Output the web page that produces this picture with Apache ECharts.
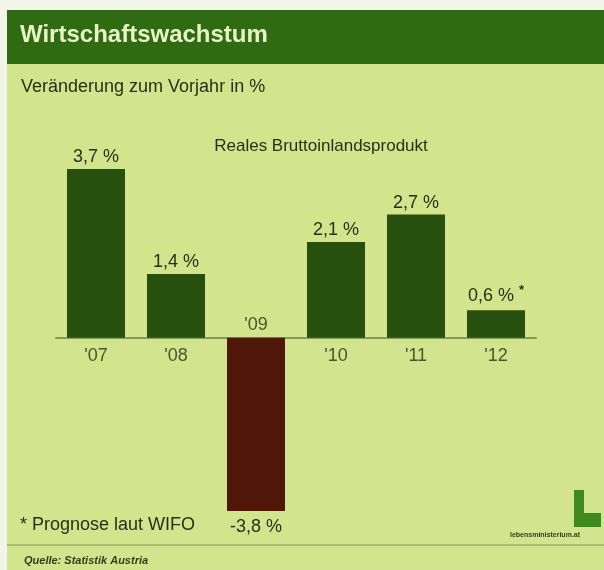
<!DOCTYPE html>
<html>
<head>
<meta charset="utf-8">
<script src="https://cdn.jsdelivr.net/npm/echarts@6/dist/echarts.min.js"></script>
<style>
html,body{margin:0;padding:0;background:#f2f5e8;}
#c{width:604px;height:570px;}
</style>
</head>
<body>
<div id="c"></div>
<script>
const categories = ["'07", "'08", "'09", "'10", "'11", "'12"];
const values = [3.7, 1.4, -3.8, 2.1, 2.7, 0.6];
const footnoteMarks = ['', '', '', '', '', '*'];

const posColor = '#26500e';
const negColor = '#4f1609';
const textColor = '#2a2e18';
const FF = '"Liberation Sans", Arial, sans-serif';

const chart = echarts.init(document.getElementById('c'));

const fmt = v => (v.toFixed(1)).replace('.', ',') + ' %';

const barData = values.map((v, i) => ({
  value: v,
  itemStyle: { color: v < 0 ? negColor : posColor },
  label: {
    position: v < 0 ? 'bottom' : 'top',
    distance: v < 0 ? 7 : 3
  }
}));

const catLabelData = values.map((v, i) => ({
  value: [categories[i], 0],
  label: {
    position: v < 0 ? 'top' : 'bottom',
    distance: v < 0 ? 4 : 9
  }
}));

chart.setOption({
  backgroundColor: 'transparent',
  animation: false,
  graphic: [
    { type: 'rect', shape: { x: 7, y: 10, width: 597, height: 560 }, style: { fill: '#d2e58d' }, z: -10 },
    { type: 'rect', shape: { x: 7, y: 10, width: 597, height: 54 }, style: { fill: '#2f6b10' }, z: -5 },
    { type: 'text', left: 20, top: 23, style: { text: 'Wirtschaftswachstum', fill: '#eaf2c8', font: 'bold 24px ' + FF } },
    { type: 'text', left: 21, top: 78, style: { text: 'Veränderung zum Vorjahr in %', fill: textColor, font: '18px ' + FF } },
    { type: 'text', left: 20, top: 516, style: { text: '* Prognose laut WIFO', fill: textColor, font: '18px ' + FF } },
    { type: 'line', shape: { x1: 7, y1: 545, x2: 604, y2: 545 }, style: { stroke: '#97b166', lineWidth: 1.5 } },
    { type: 'text', left: 24, top: 555, style: { text: 'Quelle: Statistik Austria', fill: '#3a3a20', font: 'italic bold 11px ' + FF } },
    { type: 'rect', shape: { x: 574, y: 490, width: 10, height: 37 }, style: { fill: '#3f8a1c' } },
    { type: 'rect', shape: { x: 574, y: 513, width: 27, height: 14 }, style: { fill: '#3f8a1c' } },
    { type: 'text', left: 510, top: 532, style: { text: 'lebensministerium.at', fill: '#3a3a20', font: 'bold 7px ' + FF } }
  ],
  title: {
    text: 'Reales Bruttoinlandsprodukt',
    left: 316, top: 133, textAlign: 'center',
    textStyle: { color: textColor, fontSize: 17, fontWeight: 'normal', fontFamily: FF }
  },
  grid: { left: 56, width: 480, top: 169, height: 342, containLabel: false },
  xAxis: {
    type: 'category',
    data: categories,
    axisLine: { onZero: true, lineStyle: { color: '#7f9b5a', width: 2 } },
    axisTick: { show: false },
    axisLabel: { show: false },
    splitLine: { show: false }
  },
  yAxis: {
    type: 'value',
    min: -3.8, max: 3.7,
    show: false,
    splitLine: { show: false }
  },
  series: [
    {
      type: 'bar',
      data: barData,
      barWidth: 58,
      label: {
        show: true,
        color: textColor,
        fontSize: 18,
        fontFamily: FF,
        formatter: p => {
          const m = footnoteMarks[p.dataIndex];
          return m ? '{v|' + fmt(p.value) + '}{s|' + m + '}' : fmt(p.value);
        },
        rich: {
          v: { color: textColor, fontSize: 18, fontFamily: FF },
          s: { color: textColor, fontSize: 13, padding: [0, 0, 10, 5], fontWeight: 'bold', fontFamily: FF }
        }
      }
    },
    {
      type: 'scatter',
      data: catLabelData,
      symbolSize: 0,
      silent: true,
      z: 5,
      label: {
        show: true,
        color: textColor,
        fontSize: 18,
        fontFamily: FF,
        formatter: p => categories[p.dataIndex]
      }
    }
  ]
});
</script>
</body>
</html>
